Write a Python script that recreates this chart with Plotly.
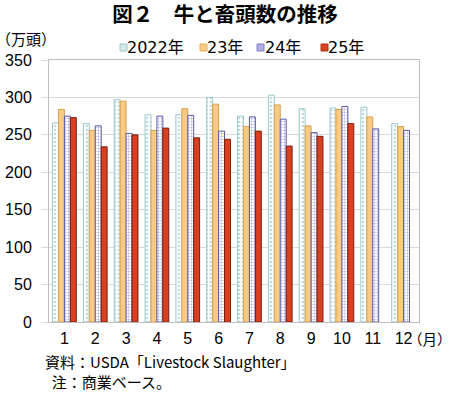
import plotly.graph_objects as go

months = ["1", "2", "3", "4", "5", "6", "7", "8", "9", "10", "11", "12"]
y2022 = [266, 265, 297, 277, 277, 300, 275, 303, 285, 286, 287, 265]
y2023 = [284, 256, 295, 256, 285, 291, 261, 290, 262, 284, 274, 261]
y2024 = [275, 262, 252, 275, 276, 255, 274, 271, 253, 288, 258, 256]
y2025 = [273, 234, 250, 259, 246, 244, 255, 235, 248, 265, None, None]
series_names = ["2022年", "23年", "24年", "25年"]

LAT = "Liberation Sans, Arial, Noto Sans CJK JP"
JP = "Noto Sans CJK JP"
LEG = "DejaVu Sans, Noto Sans CJK JP"

# plot area in page pixels
PL, PR, PT, PB = 49, 419, 60, 322
W, H = 450, 393


def px(x):
    return (x - PL) / (PR - PL)


def py(y):
    return (PB - y) / (PB - PT)


fig = go.Figure()
fig.add_trace(go.Bar(x=months, y=y2022, name=series_names[0],
    marker=dict(color="white", line=dict(color="#9CC8CC", width=1),
                pattern=dict(shape=".", fgcolor="#7FB8C4", bgcolor="white", size=4, solidity=0.35))))
fig.add_trace(go.Bar(x=months, y=y2023, name=series_names[1],
    marker=dict(color="#F7CB83", line=dict(color="#D9A050", width=1))))
fig.add_trace(go.Bar(x=months, y=y2024, name=series_names[2],
    marker=dict(color="white", line=dict(color="#5A5AA8", width=1),
                pattern=dict(shape="+", fgcolor="#6E6EC0", bgcolor="white", size=3, solidity=0.35))))
fig.add_trace(go.Bar(x=months, y=y2025, name=series_names[3],
    marker=dict(color="#D9401F", line=dict(color="#7A1E10", width=1))))

fig.update_layout(
    width=W, height=H,
    margin=dict(l=PL, r=W - PR, t=PT, b=H - PB, autoexpand=False),
    paper_bgcolor="white", plot_bgcolor="white",
    barmode="group", bargap=0.23, bargroupgap=0.0,
    font=dict(family=LAT, size=16, color="black"),
    title=dict(text="<b>図２　牛と畜頭数の推移</b>", x=225 / W, xanchor="center",
               y=1 - 14.5 / H, yanchor="middle", font=dict(family=JP, size=20.5)),
    showlegend=False,
)
fig.update_xaxes(type="category", showline=True, linecolor="#BFBFBF", mirror=True,
                 ticks="", tickfont=dict(size=16), showgrid=False,
                 ticklabelstandoff=2)
fig.update_yaxes(range=[0, 350], dtick=50, showgrid=True, gridcolor="#D9D9D9",
                 showline=True, linecolor="#BFBFBF", mirror=True,
                 ticks="outside", ticklen=7, tickcolor="#D9D9D9",
                 ticklabelstandoff=6,
                 tickfont=dict(size=16), zeroline=False)

# custom legend
leg_sym = [
    dict(x0=120, fill="#D6E9EA", line="#9CC8CC"),
    dict(x0=200, fill="#F7CB83", line="#E0B060"),
    dict(x0=257, fill="#AFAFE0", line="#8080C8"),
    dict(x0=321, fill="#D9401F", line="#B03018"),
]
leg_text_x = [127, 207, 265, 328]
for s, tx, name in zip(leg_sym, leg_text_x, series_names):
    fig.add_shape(type="rect", xref="paper", yref="paper",
                  x0=px(s["x0"]), x1=px(s["x0"] + 7), y0=py(51), y1=py(44),
                  fillcolor=s["fill"], line=dict(color=s["line"], width=1))
    fig.add_annotation(text=name, xref="paper", yref="paper", x=px(tx), y=py(48),
                       xanchor="left", yanchor="middle", showarrow=False,
                       borderpad=0, borderwidth=0,
                       font=dict(family=LEG, size=16))

fig.add_annotation(text="（万頭）", xref="paper", yref="paper", x=px(-4), y=py(39),
                   xanchor="left", yanchor="middle", showarrow=False,
                   borderpad=0, borderwidth=0, font=dict(family=JP, size=15))
fig.add_annotation(text="（月）", xref="paper", yref="paper", x=px(408), y=py(338),
                   xanchor="left", yanchor="middle", showarrow=False,
                   borderpad=0, borderwidth=0, font=dict(family=JP, size=14.5))
fig.add_annotation(text="資料：USDA「Livestock Slaughter」<br>\u00a0\u00a0注：商業ベース。",
                   xref="paper", yref="paper", align="left",
                   x=px(45), y=py(371), xanchor="left", yanchor="middle", showarrow=False,
                   borderpad=0, borderwidth=0, font=dict(family=JP, size=15))

fig.write_html("out.html", config={"displayModeBar": False},
               post_script="document.body.style.margin='0px';")
